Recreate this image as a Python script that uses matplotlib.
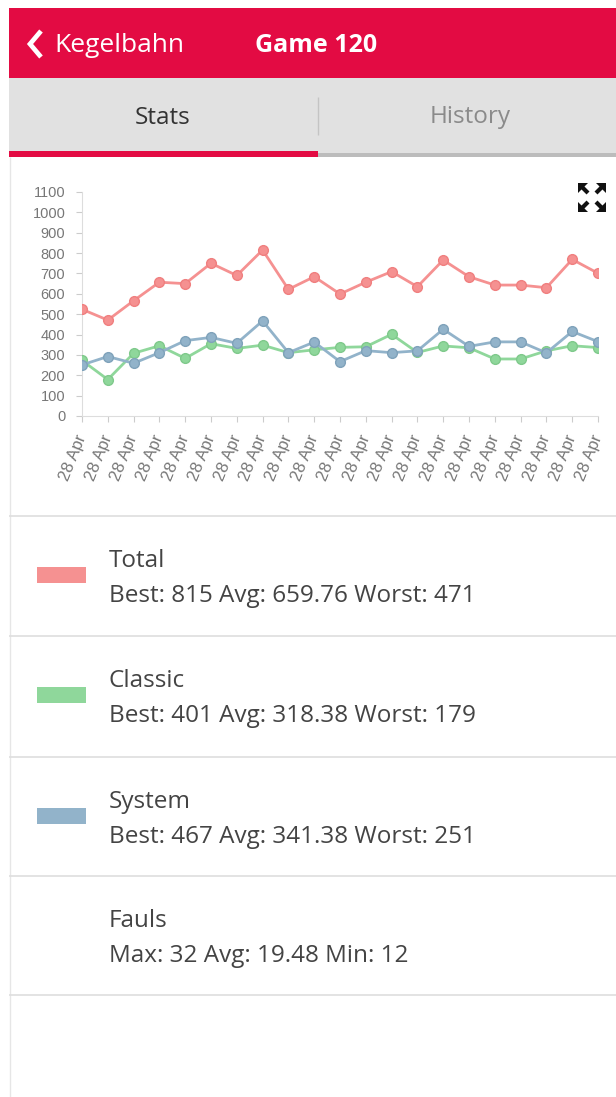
import matplotlib
matplotlib.use("Agg")
import matplotlib.pyplot as plt
from matplotlib.patches import Rectangle, Polygon
from matplotlib.lines import Line2D

# --- data (21 games, all on "28 Apr") ---
dates = ["28 Apr"] * 21
total = [524, 471, 566, 657, 650, 750, 690, 815, 622, 684, 599,
         657, 709, 635, 766, 684, 643, 643, 630, 769, 701]
classic = [273, 179, 308, 345, 283, 355, 332, 348, 311, 325, 337,
           340, 401, 312, 344, 335, 280, 280, 320, 345, 336]
system = [251, 292, 259, 311, 370, 386, 357, 467, 311, 363, 267,
          321, 311, 320, 426, 342, 364, 364, 310, 415, 365]
yticks = list(range(0, 1101, 100))

series_names = ["Total", "Classic", "System", "Fauls"]
series_stats = ["Best: 815 Avg: 659.76 Worst: 471",
                "Best: 401 Avg: 318.38 Worst: 179",
                "Best: 467 Avg: 341.38 Worst: 251",
                "Max: 32 Avg: 19.48 Min: 12"]

RED = "#e30b43"
C_TOTAL = "#f59191"
C_CLASSIC = "#8fd79b"
C_SYSTEM = "#92b3ca"
TXT = "#444444"
UI_FONT = "Open Sans"

W, H = 616, 1097
fig = plt.figure(figsize=(W / 100, H / 100), dpi=100)


def fx(x):
    return x / W


def fy(y):
    return 1 - y / H


def rect(x0, y0, x1, y1, color):
    fig.patches.append(Rectangle((fx(x0), fy(y1)), (x1 - x0) / W, (y1 - y0) / H,
                                 transform=fig.transFigure, color=color, lw=0))


def line(xs, ys, color, lw):
    fig.lines.append(Line2D([fx(x) for x in xs], [fy(y) for y in ys],
                            transform=fig.transFigure, color=color, lw=lw,
                            solid_capstyle="butt", solid_joinstyle="miter"))


# header
rect(9, 8, W, 78, RED)
line([41, 30, 41], [31, 44, 57], "white", 3.4)
fig.text(fx(54), fy(45), "Kegelbahn", color="white", fontsize=19,
         family=UI_FONT, va="center", ha="left")
fig.text(fx(255), fy(45), "Game 120", color="white", fontsize=18,
         family=UI_FONT, fontweight="bold", va="center", ha="left")

# tab bar
rect(9, 78, W, 157, "#e1e1e1")
rect(318, 153, W, 157, "#bcbcbc")
rect(9, 151, 318, 157, RED)
line([318, 318], [97, 135], "#c4c4c4", 1)
fig.text(fx(163), fy(118), "Stats", color="#333333", fontsize=17.5,
         family=UI_FONT, va="center", ha="center")
fig.text(fx(470), fy(117), "History", color="#8a8a8a", fontsize=17.5,
         family=UI_FONT, va="center", ha="center")

# left border of the content area
line([9.5, 9.5], [157, H], "#e6e6e6", 1)

# chart
ax = fig.add_axes([fx(82), fy(416), 516 / W, 224 / H])
x = list(range(len(dates)))
ax.plot(x, total, color=C_TOTAL, lw=2, marker="o", ms=7, mec="#f07f7f", zorder=3)
ax.plot(x, classic, color=C_CLASSIC, lw=2, marker="o", ms=7, mec="#7fc98b", zorder=3)
ax.plot(x, system, color=C_SYSTEM, lw=2, marker="o", ms=7, mec="#7fa2ba", zorder=4)
ax.set_xlim(0, 20)
ax.set_ylim(0, 1100)
ax.set_yticks(yticks)
ax.set_yticklabels([str(v) for v in yticks], family="Liberation Sans",
                   fontsize=10.5, color="#777777")
ax.set_xticks(x)
ax.set_xticklabels(dates, rotation=68, ha="right", va="center",
                   rotation_mode="anchor",
                   family="Liberation Sans", fontsize=12, color="#777777")
for s in ["top", "right"]:
    ax.spines[s].set_visible(False)
for s in ["left", "bottom"]:
    ax.spines[s].set_color("#dddddd")
ax.tick_params(axis="both", colors="#cccccc", length=4, width=0.8)
ax.tick_params(axis="y", pad=8, labelcolor="#777777")
ax.tick_params(axis="x", pad=10, labelcolor="#777777")
ax.patch.set_alpha(0)

# fullscreen icon
cx0, cy0, cx1, cy1 = 578, 183, 606, 212
for (px, py, dx, dy) in [(cx0, cy0, 1, 1), (cx1, cy0, -1, 1),
                         (cx0, cy1, 1, -1), (cx1, cy1, -1, -1)]:
    tri = [(px, py), (px + 10 * dx, py), (px, py + 10 * dy)]
    fig.patches.append(Polygon([(fx(a), fy(b)) for a, b in tri],
                               transform=fig.transFigure, color="#111111", lw=0))
    line([px + 3 * dx, px + 10 * dx], [py + 3 * dy, py + 10 * dy], "#111111", 3)

# legend rows
for yy in [516, 636, 757, 876, 995]:
    line([9, W], [yy, yy], "#dedede", 1.2)

row_tops = [516, 636, 757, 876]
swatches = [C_TOTAL, C_CLASSIC, C_SYSTEM, None]
for top, name, stats, col in zip(row_tops, series_names, series_stats, swatches):
    if col:
        rect(37, top + 51, 86, top + 67, col)
    fig.text(fx(109), fy(top + 45), name, color=TXT, fontsize=17.5,
             family=UI_FONT, va="center", ha="left")
    fig.text(fx(109), fy(top + 80), stats, color=TXT, fontsize=17.5,
             family=UI_FONT, va="center", ha="left")

fig.savefig("out.png", dpi=100, facecolor="white")
